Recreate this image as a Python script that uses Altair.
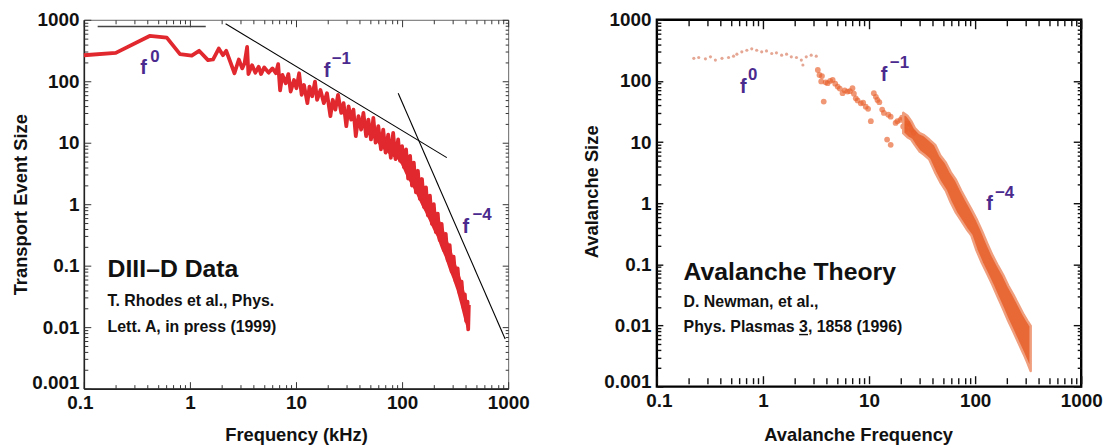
import altair as alt
import pandas as pd

FONT = "Liberation Sans Narrow, Arial Narrow, Liberation Sans, Arial, sans-serif"
RED = "#e0282e"
ORANGE = "#e8612c"
TRAIL = "#dc8a70"
PURPLE = "#4b2a8e"

# ---------------- axis values ----------------
X_MAJOR = [0.1, 1, 10, 100, 1000]
X_MINOR = [0.2, 0.3, 0.4, 0.5, 0.6, 0.7, 0.8, 0.9,
           2, 3, 4, 5, 6, 7, 8, 9,
           20, 30, 40, 50, 60, 70, 80, 90,
           200, 300, 400, 500, 600, 700, 800, 900]
Y_MAJOR = [0.001, 0.01, 0.1, 1, 10, 100, 1000]
Y_MINOR = [0.002, 0.003, 0.004, 0.005, 0.006, 0.007, 0.008, 0.009,
           0.02, 0.03, 0.04, 0.05, 0.06, 0.07, 0.08, 0.09,
           0.2, 0.3, 0.4, 0.5, 0.6, 0.7, 0.8, 0.9,
           2, 3, 4, 5, 6, 7, 8, 9,
           20, 30, 40, 50, 60, 70, 80, 90,
           200, 300, 400, 500, 600, 700, 800, 900]

# ---------------- left panel: DIII-D data ----------------
diiid_freq = [0.1, 0.2, 0.417, 0.605, 0.806, 1.04, 1.22, 1.48, 1.65, 1.87, 2.05, 2.2,
              2.63, 2.89, 3.11, 3.27, 3.46, 3.56, 3.85, 4.14, 4.45, 4.68, 5.02, 5.51,
              6.0, 6.46, 6.79, 7.08, 7.45, 8.0, 8.47, 8.9, 9.58, 10.1, 10.7, 11.3,
              11.9, 12.8, 13.4, 14.2, 15.1, 15.8, 17.0, 18.3, 19.6, 21.1, 22.2, 23.5,
              24.9, 26.7, 28.1, 29.8, 31.3, 33.1, 34.8, 36.6, 38.8, 41.1, 43.2, 45.8,
              48.1, 50.9, 53.6, 56.3, 59.7, 63.2, 66.4, 69.9, 74, 78.3, 82.4, 86.7,
              91.8, 95.7, 100, 104, 109, 114, 119, 124, 129, 135, 141, 147,
              154, 161, 168, 175, 183, 191, 199, 208, 217, 226, 236, 247,
              258, 269, 281, 293, 306, 320, 334, 348, 364, 380, 391, 402,
              414, 420, 426]
diiid_size = [265, 290, 546, 513, 276, 262, 313, 221, 226, 341, 266, 313,
              135, 226, 162, 195, 362, 131, 183, 138, 172, 131, 168, 138,
              162, 135, 190, 71, 127, 93, 131, 68, 105, 77, 135, 60,
              87, 44, 82, 57, 99, 50, 72, 44, 64, 27, 50, 34.5,
              60, 30.5, 44, 18.6, 39, 23.8, 34.5, 12.8, 27, 16.4, 30.5, 12.8,
              23.8, 11.3, 25.3, 10, 18.6, 7.8, 16.4, 6.9, 13.6, 5.7, 14.5, 5.4,
              11.3, 5.1, 8.8, 4.0, 7.8, 2.6, 6.1, 2.0, 4.75, 1.56, 3.5, 1.22,
              2.57, 0.9, 1.88, 0.66, 1.38, 0.48, 1.0, 0.35, 0.7, 0.26, 0.48, 0.18,
              0.33, 0.123, 0.215, 0.08, 0.14, 0.055, 0.09, 0.036, 0.055, 0.0205, 0.034, 0.0125,
              0.026, 0.0092, 0.023]
# solid core of the dense high-frequency part of the trace
core_freq = [45, 55, 65, 78, 91.8, 100, 109, 119, 129, 141, 154, 168, 183, 199, 217,
             236, 258, 281, 306, 334, 364, 391, 414]
core_high = [22, 17, 13, 10.5, 9, 7.5, 6.5, 5, 4, 3, 2.2, 1.6, 1.15, 0.85, 0.6,
             0.42, 0.28, 0.19, 0.12, 0.08, 0.05, 0.03, 0.023]
core_low = [15, 12, 8.5, 6.5, 5.5, 4.5, 3.2, 2.4, 1.9, 1.4, 1.0, 0.75, 0.55, 0.4, 0.3,
            0.2, 0.14, 0.09, 0.062, 0.04, 0.023, 0.014, 0.01]

fit_f0_freq = [0.135, 1.41]
fit_f0_size = [780, 780]
fit_f1_freq = [2.17, 264]
fit_f1_size = [861, 5.73]
fit_f4_freq = [91.9, 937]
fit_f4_size = [64, 0.0064]

left_title = "DIII\u2013D Data"
left_title_pos = (0.1675, 0.0665)
left_ref = ["T. Rhodes et al., Phys.", "Lett. A, in press (1999)"]
left_ref_x = [0.1675, 0.1675]
left_ref_y = [0.0218, 0.0083]
left_f_x = [0.341, 18.3, 372]
left_f_y = [130, 116, 0.34]
left_sup = ["0", "\u22121", "\u22124"]
left_sup_x = [0.4225, 21.7, 461]
left_sup_y = [202, 188, 0.552]

# ---------------- right panel: avalanche theory ----------------
trail_freq = [0.223, 0.248, 0.287, 0.32, 0.356, 0.411, 0.474, 0.528, 0.568, 0.632, 0.705,
              0.784, 0.873, 0.973, 1.08, 1.21, 1.34, 1.5, 1.67, 1.85, 2.07, 2.3, 2.38,
              2.56, 2.85, 3.18]
trail_size = [234, 242, 230, 248, 219, 234, 242, 254, 274, 299, 318,
              335, 318, 299, 310, 281, 288, 264, 274, 248, 242, 219, 182,
              248, 264, 254]
clump_freq = [3.29, 3.41, 3.54, 3.6, 3.74, 3.9, 4.07, 4.3, 4.54, 4.8, 5.06, 5.3, 5.63,
              5.9, 6.27, 6.6, 6.98, 7.2, 7.5, 7.8, 8.36, 8.8, 9.31, 9.8, 10.4, 11.1,
              11.6, 12, 12.5, 13.3, 13.8, 14.8, 15.2, 16, 16, 17.8, 18.5, 19.8, 20.5,
              21, 22, 23, 24.5, 25, 26.4]
clump_size = [151, 125, 98, 120, 46, 95, 92, 100, 104, 90, 81, 75, 63,
              70, 67, 68, 76, 62, 52, 48, 43, 44, 38, 35, 22, 63,
              55, 49, 45, 34, 30, 11, 28, 9, 26, 20.6, 22, 23, 25,
              18, 16, 20, 19.4, 16, 14.2]
band_freq = [21, 23, 25, 27, 30, 33, 37, 42, 47, 53, 59, 66, 74, 83, 92, 103, 116, 130,
             146, 164, 183, 205, 229, 256, 287, 310, 334]
band_high = [30, 27, 22, 17, 14, 13, 11, 9, 6, 4.6, 3.2, 2.4, 1.6, 1.1, 0.8, 0.55, 0.35,
             0.22, 0.14, 0.095, 0.068, 0.045, 0.032, 0.022, 0.015, 0.012, 0.0098]
band_low = [14, 12, 11, 9, 7, 6.2, 5.2, 3.2, 2.2, 1.6, 1.03, 0.7, 0.52, 0.38, 0.3, 0.17,
            0.105, 0.07, 0.046, 0.029, 0.019, 0.012, 0.008, 0.0052, 0.0034, 0.0025, 0.0018]

right_title = "Avalanche Theory"
right_title_pos = (0.1786, 0.0565)
right_ref = ["D. Newman, et al.,", "Phys. Plasmas 3, 1858 (1996)"]
right_ref_x = [0.1786, 0.1786]
right_ref_y = [0.0199, 0.0078]
underline_x = [2.19, 2.66]      # under the volume number "3"
underline_y = 0.0071
right_f_x = [0.609, 12.9, 127]
right_f_y = [63, 99, 0.77]
right_sup = ["0", "\u22121", "\u22124"]
right_sup_x = [0.724, 15.7, 154]
right_sup_y = [103, 160, 1.2]

TICK_FS = 19
TITLE_FS = 18.5
BIG_FS = 25
REF_FS = 16
F_FS = 20
SUP_FS = 17

XS = alt.Scale(type="log", domain=[0.1, 1000], nice=False)
YS = alt.Scale(type="log", domain=[0.001, 1000], nice=False)
FRAME = pd.DataFrame({"x": [0.1, 1000], "y": [0.001, 1000]})


def enc_xy(ch, xaxis=None, yaxis=None, xf="x", yf="y"):
    return ch.encode(
        x=alt.X(f"{xf}:Q", scale=XS, axis=xaxis),
        y=alt.Y(f"{yf}:Q", scale=YS, axis=yaxis),
    )


def ghost():
    return alt.Chart(FRAME).mark_point(opacity=0, size=1)


def tick_axis(orient, values, size, gap, color, width):
    return alt.Axis(orient=orient, values=values, offset=-(size + gap), tickSize=size,
                    ticks=True, labels=False, domain=False, grid=False, title=None,
                    tickColor=color, tickWidth=width, minExtent=0)


def lab_axis(orient, values, domain, dcolor, dwidth, pad, title, tpad, **extra):
    d = dict(orient=orient, values=values, format="~g", ticks=False, domain=domain,
             domainColor=dcolor, domainWidth=dwidth, labelFont=FONT, labelFontSize=TICK_FS,
             labelFontWeight="bold", labelColor="#111", labelPadding=pad, labelFlush=False,
             labelOverlap=False, grid=False, title=title, titleFont=FONT,
             titleFontSize=TITLE_FS, titleFontWeight="bold", titleColor="#111",
             titlePadding=tpad)
    d.update(extra)
    return alt.Axis(**d)


def label_layers(xtitle, ytitle, domain, dcolor, dwidth, corner_dx, corner_dy,
                 xtitle_extra=None, ytitle_extra=None, ylabel_pad=5, ytitle_pad=2,
                 xtitle_pad=13):
    main = enc_xy(ghost(),
                  lab_axis("bottom", X_MAJOR[1:], domain, dcolor, dwidth, 5, xtitle,
                           xtitle_pad, **(xtitle_extra or {})),
                  lab_axis("left", Y_MAJOR[1:], domain, dcolor, dwidth, ylabel_pad, ytitle,
                           ytitle_pad, **(ytitle_extra or {})))
    corner = enc_xy(ghost(),
                    lab_axis("bottom", X_MAJOR[:1], False, dcolor, 0, 5, None, 0,
                             labelOffset=corner_dx),
                    lab_axis("left", Y_MAJOR[:1], False, dcolor, 0, ylabel_pad, None, 0,
                             labelOffset=corner_dy))
    return [main, corner]


def tick_layers(bot, top, left, right, color, width):
    # each spec: (major_len, minor_len, gap from frame)
    out = []
    for xo, xs_spec, yo, ys_spec in (("bottom", bot, "left", left), ("top", top, "right", right)):
        out.append(enc_xy(ghost(),
                          tick_axis(xo, X_MAJOR, xs_spec[0], xs_spec[2], color, width),
                          tick_axis(yo, Y_MAJOR, ys_spec[0], ys_spec[2], color, width)))
        out.append(enc_xy(ghost(),
                          tick_axis(xo, X_MINOR, xs_spec[1], xs_spec[2], color, width),
                          tick_axis(yo, Y_MINOR, ys_spec[1], ys_spec[2], color, width)))
    return out


def text_layer(xs_, ys_, texts, size, color):
    df = pd.DataFrame({"x": xs_, "y": ys_, "t": texts})
    ch = alt.Chart(df).mark_text(align="left", baseline="alphabetic", font=FONT,
                                 fontSize=size, fontWeight="bold", color=color)
    return enc_xy(ch).encode(text="t:N")


def line_layer(fx, fy, color, width, join="miter"):
    df = pd.DataFrame({"x": fx, "y": fy, "o": list(range(len(fx)))})
    ch = alt.Chart(df).mark_line(color=color, strokeWidth=width, strokeJoin=join)
    return enc_xy(ch).encode(order="o:Q")


def band_layer(fx, lo, hi, color, opacity, stroke, sw):
    df = pd.DataFrame({"x": fx, "lo": lo, "hi": hi})
    return alt.Chart(df).mark_area(color=color, opacity=opacity, stroke=stroke,
                                   strokeWidth=sw, strokeJoin="round").encode(
        x=alt.X("x:Q", scale=XS, axis=None),
        y=alt.Y("lo:Q", scale=YS, axis=None),
        y2="hi:Q")


# ---------- left ----------
left_layers = label_layers("Frequency (kHz)", "Transport Event Size", True, "#222", 1.6,
                           corner_dx=-4, corner_dy=-6, ytitle_pad=7)
left_layers += tick_layers((7, 4, 0), (7, 4, 0), (7, 4, 0), (6, 3, 0), "#333", 1)
left_layers += [
    band_layer(core_freq, core_low, core_high, RED, 1, RED, 2),
    line_layer(diiid_freq, diiid_size, RED, 3.8, "round"),
    line_layer(fit_f0_freq, fit_f0_size, "#444", 1.4),
    line_layer(fit_f1_freq, fit_f1_size, "black", 1.1),
    line_layer(fit_f4_freq, fit_f4_size, "black", 1.1),
    text_layer([left_title_pos[0]], [left_title_pos[1]], [left_title], BIG_FS, "#111"),
    text_layer(left_ref_x, left_ref_y, left_ref, REF_FS, "#111"),
    text_layer(left_f_x, left_f_y, ["f", "f", "f"], F_FS, PURPLE),
    text_layer(left_sup_x, left_sup_y, left_sup, SUP_FS, PURPLE),
]
left = alt.layer(*left_layers).resolve_axis(x="independent", y="independent").properties(
    width=428, height=372, view=alt.ViewBackground(stroke="#666", strokeWidth=1))

# ---------- right ----------
trail_df = pd.DataFrame({"x": trail_freq, "y": trail_size})
clump_df = pd.DataFrame({"x": clump_freq, "y": clump_size})
uline_df = pd.DataFrame({"x": underline_x[:1], "x2": underline_x[1:], "y": [underline_y]})

right_layers = label_layers("Avalanche Frequency", "Avalanche Size", False, "black", 0,
                            corner_dx=2, corner_dy=-5,
                            xtitle_extra={"titleX": 203}, ytitle_extra={"titleY": 173},
                            ylabel_pad=6, ytitle_pad=8, xtitle_pad=15)
right_layers += tick_layers((8, 6, 3), (9, 6, 0), (6, 4, 0), (8, 4, 0), "#111", 1.4)
right_layers += [
    enc_xy(alt.Chart(trail_df).mark_circle(size=10, color=TRAIL, opacity=0.75)),
    enc_xy(alt.Chart(clump_df).mark_circle(size=34, color=ORANGE, opacity=0.65)),
    band_layer(band_freq, band_low, band_high, ORANGE, 0.95, "#f09a78", 2.5),
    text_layer([right_title_pos[0]], [right_title_pos[1]], [right_title], BIG_FS, "#111"),
    text_layer(right_ref_x, right_ref_y, right_ref, REF_FS, "#111"),
    alt.Chart(uline_df).mark_rule(color="#111", strokeWidth=1.4).encode(
        x=alt.X("x:Q", scale=XS, axis=None), x2="x2:Q",
        y=alt.Y("y:Q", scale=YS, axis=None)),
    text_layer(right_f_x, right_f_y, ["f", "f", "f"], F_FS, PURPLE),
    text_layer(right_sup_x, right_sup_y, right_sup, SUP_FS, PURPLE),
]
right = alt.layer(*right_layers).resolve_axis(x="independent", y="independent").properties(
    width=428, height=370, view=alt.ViewBackground(stroke="black", strokeWidth=2.4))

chart = alt.hconcat(left, right, spacing=150, bounds="flush").properties(
    padding={"left": 2.5, "top": -1, "right": 0, "bottom": 0},
    background="white",
)

chart.save("out.html", embed_options={"renderer": "svg", "actions": False})
